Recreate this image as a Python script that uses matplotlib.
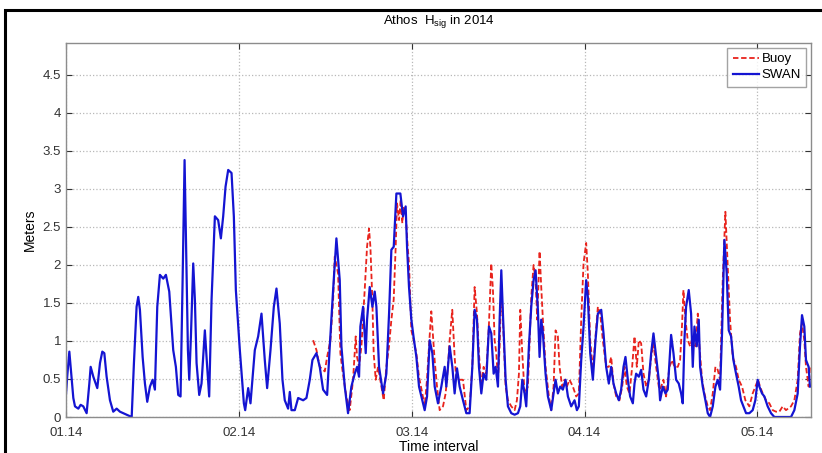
import numpy as np
import matplotlib
matplotlib.use('Agg')
import matplotlib.pyplot as plt
from matplotlib.patches import Rectangle

plt.rcParams['font.family'] = ['Liberation Sans', 'DejaVu Sans']

# days since 1 Jan 2014 / significant wave height (m)
swan_day = [0.0, 0.23, 0.58, 0.95, 1.27, 1.56, 2.14, 2.54, 3.0, 3.58, 4.05, 4.28, 4.74, 5.43, 5.9,
            6.3, 6.65, 7.05, 7.63, 8.2, 8.79, 9.36, 10.23, 11.4, 11.79, 12.25, 12.54, 12.83, 13.3,
            13.7, 14.1, 14.57, 15.03, 15.43, 15.84, 16.3, 16.88, 17.34, 17.92, 18.61, 19.07, 19.48,
            19.88, 20.23, 20.58, 20.81, 21.16, 21.39, 21.68, 22.08, 22.37, 22.66, 23.12, 23.52,
            24.1, 24.5, 24.85, 25.26, 25.84, 26.41, 26.88, 27.28, 27.69, 28.15, 28.73, 29.13,
            29.48, 30.17, 30.87, 31.1, 31.62, 32.02, 32.77, 33.35, 33.93, 34.5, 34.91, 35.49,
            36.07, 36.53, 37.1, 37.57, 37.97, 38.55, 38.84, 39.13, 39.71, 40.29, 41.16, 41.73,
            42.31, 42.77, 43.47, 44.04, 44.62, 45.32, 45.78, 46.36, 46.93, 47.51, 47.8, 48.38,
            48.95, 49.53, 50.11, 50.52, 50.86, 51.09, 51.56, 52.02, 52.25, 52.71, 53.18, 53.58,
            53.87, 54.33, 55.03, 55.6, 56.07, 56.47, 56.88, 57.34, 58.03, 58.49, 58.95, 59.19,
            59.53, 59.94, 60.31, 60.81, 61.27, 61.85, 62.25, 62.66, 63.12, 63.58, 63.99, 64.56,
            65.14, 65.72, 66.01, 66.59, 67.05, 67.45, 67.86, 68.32, 68.9, 69.48, 70.05, 70.52,
            70.92, 71.33, 71.67, 72.08, 72.48, 72.94, 73.41, 73.81, 74.22, 74.56, 74.97, 75.26,
            75.55, 75.83, 76.3, 76.7, 77.28, 77.86, 78.44, 78.84, 79.19, 79.59, 79.88, 80.34,
            80.75, 81.15, 81.5, 81.9, 82.19, 82.48, 82.77, 83.23, 83.64, 84.22, 84.62, 84.97,
            85.37, 85.78, 86.24, 86.7, 87.11, 87.68, 88.26, 88.67, 89.01, 89.42, 89.82, 90.28,
            90.57, 90.98, 91.44, 91.9, 92.31, 92.89, 93.29, 93.75, 94.21, 94.62, 95.02, 95.49,
            95.95, 96.35, 96.76, 97.1, 97.51, 97.91, 98.38, 98.67, 98.95, 99.42, 99.82, 100.23,
            100.69, 101.15, 101.56, 101.96, 102.42, 102.88, 103.11, 103.58, 104.04, 104.44,
            105.02, 105.43, 105.89, 106.35, 106.76, 107.04, 107.33, 107.62, 108.08, 108.49,
            108.78, 109.07, 109.47, 109.82, 110.05, 110.51, 110.97, 111.38, 111.78, 112.25,
            112.71, 113.11, 113.52, 113.86, 114.27, 114.67, 115.02, 115.43, 115.83, 116.29,
            116.75, 117.16, 117.56, 118.03, 118.6, 119.18, 119.64, 120.05, 120.34, 120.8,
            121.21, 121.78, 122.36, 122.94, 123.81, 124.96, 125.83, 126.41, 126.99, 127.39,
            127.74, 128.14, 128.43, 128.89, 129.12]
swan_hs = [0.3, 0.55, 0.86, 0.53, 0.25, 0.14, 0.11, 0.16, 0.14, 0.05, 0.44, 0.66, 0.53, 0.38, 0.71,
           0.86, 0.84, 0.53, 0.22, 0.07, 0.11, 0.07, 0.04, 0.0, 0.71, 1.45, 1.58, 1.41, 0.79,
           0.44, 0.2, 0.4, 0.49, 0.36, 1.45, 1.87, 1.82, 1.87, 1.65, 0.88, 0.66, 0.29,
           0.27, 1.76, 3.38, 2.42, 0.88, 0.49, 1.06, 2.02, 1.54, 0.71, 0.29, 0.44,
           1.14, 0.66, 0.27, 1.54, 2.64, 2.59, 2.35, 2.64, 3.03, 3.25, 3.21, 2.64,
           1.67, 0.88, 0.18, 0.09, 0.38, 0.18, 0.88, 1.06, 1.36, 0.75, 0.38, 0.88,
           1.45, 1.69, 1.23, 0.49, 0.22, 0.11, 0.33, 0.09, 0.09, 0.25, 0.22, 0.25,
           0.49, 0.75, 0.84, 0.66, 0.36, 0.29, 0.93, 1.67, 2.35, 1.8, 0.93, 0.4,
           0.05, 0.4, 0.57, 0.66, 0.53, 1.19, 1.45, 0.84, 1.28, 1.71, 1.45, 1.65,
           1.45, 0.66, 0.31, 0.57, 1.36, 2.2, 2.24, 2.94, 2.94, 2.64, 2.77, 2.24,
           1.71, 1.28, 1.06, 0.79, 0.4, 0.22, 0.09, 0.27, 1.01, 0.84, 0.4, 0.18,
           0.4, 0.66, 0.4, 0.93, 0.66, 0.31, 0.64, 0.4, 0.22, 0.05, 0.05, 0.66,
           1.41, 1.28, 0.66, 0.31, 0.57, 0.49, 1.19, 1.1, 0.57, 0.66, 0.4, 1.28,
           1.93, 1.36, 0.49, 0.14, 0.05, 0.03, 0.05, 0.14, 0.49, 0.31, 0.14, 0.93,
           1.45, 1.8, 1.93, 1.41, 0.79, 1.28, 1.1, 0.57, 0.27, 0.09, 0.31, 0.49,
           0.31, 0.4, 0.36, 0.49, 0.27, 0.14, 0.22, 0.09, 0.14, 0.75, 1.19, 1.8,
           1.58, 0.84, 0.49, 1.01, 1.36, 1.41, 1.1, 0.66, 0.44, 0.66, 0.44, 0.31,
           0.22, 0.36, 0.66, 0.79, 0.49, 0.27, 0.18, 0.44, 0.57, 0.53, 0.62, 0.36,
           0.27, 0.49, 0.84, 1.1, 0.79, 0.49, 0.22, 0.4, 0.31, 0.36,
           1.08, 0.84, 0.49, 0.44, 0.31, 0.18, 1.01, 1.45, 1.67, 1.36,
           0.66, 1.19, 0.93, 1.28, 0.66, 0.4, 0.22, 0.05, 0.0, 0.14,
           0.4, 0.49, 0.36, 1.1, 2.33, 1.89, 1.14, 1.06, 0.75, 0.57,
           0.4, 0.22, 0.14, 0.05, 0.05, 0.09, 0.22, 0.49, 0.4, 0.31,
           0.27, 0.14, 0.05, 0.0, 0.0, 0.0, 0.0, 0.09, 0.31, 0.93,
           1.34, 1.19, 0.75, 0.66, 0.4]

buoy_day = [42.89, 43.47, 44.04, 44.91, 45.32, 45.89, 46.36, 46.64, 47.22, 47.62, 47.97, 48.66,
            49.24, 49.82, 50.28, 50.51, 50.86, 51.27, 51.84, 52.25, 52.59, 52.83, 53.17, 53.4,
            53.75, 54.16, 54.73, 55.14, 55.6, 56.06, 56.47, 56.87, 57.22, 57.45, 57.8, 58.09,
            58.37, 58.61, 58.95, 59.3, 59.53, 59.94, 60.34, 60.8, 61.26, 61.84, 62.25, 62.65,
            63.11, 63.4, 63.98, 64.39, 64.85, 65.43, 65.89, 66.29, 66.58, 67.04, 67.45, 67.74,
            68.32, 68.9, 69.48, 70.05, 70.52, 70.92, 71.33, 71.67, 72.08, 72.48, 72.94, 73.41,
            73.81, 74.1, 74.39, 74.68, 74.97, 75.26, 75.55, 75.83, 76.3, 76.7, 77.28, 77.86,
            78.26, 78.61, 78.84, 79.19, 79.59, 80.17, 80.75, 81.15, 81.5, 81.79, 82.19, 82.48,
            82.77, 83.23, 83.81, 84.22, 84.62, 84.97, 85.37, 85.66, 86.12, 86.53, 86.93, 87.39,
            87.97, 88.55, 89.01, 89.42, 89.82, 90.28, 90.57, 90.98, 91.44, 91.9, 92.31, 92.71,
            93.17, 93.75, 94.21, 94.62, 95.02, 95.49, 96.06, 96.53, 96.93, 97.34, 97.8, 98.26,
            98.67, 99.07, 99.42, 99.82, 100.23, 100.69, 101.15, 101.56, 101.96, 102.42, 102.88,
            103.11, 103.69, 104.15, 104.73, 105.2, 105.6, 106.18, 106.58, 106.93, 107.16,
            107.51, 107.91, 108.32, 108.78, 109.24, 109.65, 109.93, 110.4, 110.8, 111.38,
            111.78, 112.25, 112.71, 113.11, 113.52, 113.98, 114.44, 114.85, 115.25, 115.71,
            116.29, 116.75, 117.33, 117.91, 118.6, 119.18, 119.64, 120.11, 120.45, 120.92,
            121.49, 122.07, 122.65, 123.23, 123.81, 124.38, 124.96, 125.83, 126.41, 126.99,
            127.39, 127.74, 128.14, 128.43, 128.89, 129.12]
buoy_hs = [1.01, 0.88, 0.66, 0.6, 0.79, 1.01, 1.54, 2.11, 1.89, 0.84, 0.62, 0.27,
           0.09, 0.49, 1.06, 0.79, 0.66, 0.93, 1.67, 2.24, 2.48, 2.24, 1.54, 0.84,
           0.49, 0.66, 0.4, 0.22, 0.66, 0.93, 1.28, 1.54, 2.24, 2.81, 2.59, 2.86,
           2.55, 2.77, 2.68, 2.24, 2.02, 1.14, 1.01, 0.84, 0.53, 0.31, 0.14, 0.49,
           1.06, 1.39, 0.75, 0.4, 0.09, 0.14, 0.31, 0.66, 1.01, 1.41, 0.79, 0.49,
           0.49, 0.49, 0.09, 0.14, 0.66, 1.71, 1.36, 0.84, 0.4, 0.66, 0.57, 1.23,
           2.02, 1.67, 1.01, 0.84, 0.49, 0.93, 1.71, 1.28, 0.4, 0.22, 0.14, 0.09,
           0.22, 0.57, 1.41, 0.84, 0.31, 0.4, 1.58, 2.0, 1.8, 1.28, 2.18, 1.71,
           1.28, 0.66, 0.27, 0.09, 0.4, 1.14, 1.06, 0.66, 0.4, 0.49, 0.4, 0.49,
           0.4, 0.27, 0.31, 1.28, 2.02, 2.29, 1.89, 1.01, 0.62, 1.06, 1.45, 1.36,
           1.01, 0.66, 0.66, 0.79, 0.44, 0.27, 0.22, 0.4, 0.66, 0.4, 0.31, 0.66,
           1.06, 0.66, 1.01, 0.97, 0.57, 0.4, 0.49, 0.79, 0.97, 0.66, 0.4,
           0.36, 0.49, 0.27, 0.66, 0.75, 0.66, 0.66, 0.75, 1.23, 1.67,
           1.28, 1.01, 0.93, 1.06, 0.93, 1.36, 0.93, 0.49, 0.31, 0.14,
           0.09, 0.31, 0.66, 0.62, 0.49, 1.8, 2.7, 1.98, 1.28, 0.79,
           0.66, 0.49, 0.4, 0.22, 0.14, 0.31, 0.4, 0.49, 0.4, 0.31,
           0.22, 0.18, 0.09, 0.07, 0.07, 0.14, 0.09, 0.14, 0.22, 0.49,
           1.1, 1.23, 1.01, 0.66, 0.4, 0.66]

tick_days = [0, 30, 60, 90, 120]
tick_labels = ['01.14', '02.14', '03.14', '04.14', '05.14']

fig = plt.figure(figsize=(8.22, 4.53), dpi=100)
ax = fig.add_axes([66 / 822, 36 / 453, 745 / 822, 374 / 453])

ax.plot(buoy_day, buoy_hs, color='#e8231c', linestyle='--', linewidth=1.3, label='Buoy',
        dashes=(3, 1.5))
ax.plot(swan_day, swan_hs, color='#1414d2', linewidth=1.6, label='SWAN')

ax.set_xlim(0, 129.3)
ax.set_ylim(0, 4.92)
ax.set_xticks(tick_days)
ax.set_xticklabels(tick_labels)
ax.set_yticks(np.arange(0, 4.6, 0.5))
ax.set_yticklabels(['0', '0.5', '1', '1.5', '2', '2.5', '3', '3.5', '4', '4.5'])
ax.tick_params(direction='in', length=4, top=True, right=True, labelsize=9.5,
               colors='#333333', width=0.8)
ax.tick_params(axis='x', pad=7)
ax.grid(True, linestyle=':', color='#b8b8b8', linewidth=0.9)
for s in ax.spines.values():
    s.set_color('#8c8c8c')
    s.set_linewidth(1.0)

ax.set_title(r'Athos  H$_\mathregular{sig}$ in 2014', fontsize=9.5, pad=14)
ax.set_xlabel('Time interval', fontsize=10, labelpad=1)
ax.set_ylabel('Meters', fontsize=10, labelpad=4)

leg = ax.legend(loc='upper right', fontsize=9.5, handlelength=2.0, handletextpad=0.2,
                borderpad=0.4, labelspacing=0.3, fancybox=False, borderaxespad=0.35)
leg.get_frame().set_edgecolor('#8c8c8c')
leg.get_frame().set_linewidth(1.0)

# outer frame of the exported figure
fig.patches.append(Rectangle((5 / 822, -0.1), 1.2, 1.1 - 10 / 453, transform=fig.transFigure,
                             fill=False, edgecolor='black', linewidth=2.2))

fig.savefig('out.png', dpi=100)
